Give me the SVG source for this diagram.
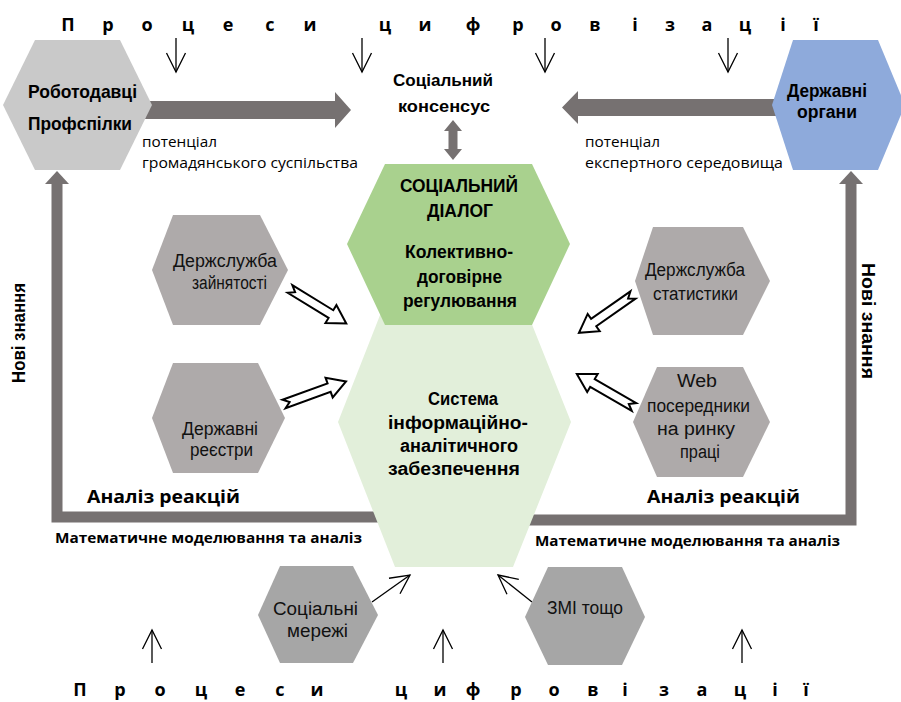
<svg xmlns="http://www.w3.org/2000/svg" width="901" height="702" viewBox="0 0 901 702">
<style>
.ttl{font-family:"Open Sans","Liberation Sans",sans-serif;font-weight:700;font-size:18px;fill:#000;text-anchor:middle}
.nb{font-family:"Liberation Sans",Arial,sans-serif;font-weight:700;fill:#000}
.nr{font-family:"Liberation Sans",Arial,sans-serif;font-weight:400;fill:#111}
.cal{font-family:"Open Sans","Liberation Sans",sans-serif;fill:#000}
.thin{fill:none;stroke:#000;stroke-width:1.3}
.thick{fill:#767171}
.frame{fill:none;stroke:#767171;stroke-width:11;stroke-linejoin:miter}
.hol{fill:#fff;stroke:#000;stroke-width:2;stroke-linejoin:miter}
.g1{fill:#AEAAAA}
.g2{fill:#A6A6A6}
</style>
<defs>
<marker id="v" viewBox="-22 -11 24 22" refX="0" refY="0" markerWidth="24" markerHeight="22" markerUnits="userSpaceOnUse" orient="auto">
<path d="M-19,-9.5 L0,0 L-19,9.5" fill="none" stroke="#000" stroke-width="1.3"/>
</marker>
<path id="ha" d="M0,-4.5 L48,-4.5 L48,-10.5 L66,0 L48,10.5 L48,4.5 L0,4.5 L6,0 Z"/>
</defs>
<rect width="901" height="702" fill="#fff"/>

<g id="title-top">
<text class="ttl" y="31"><tspan x="68">П</tspan><tspan x="108">р</tspan><tspan x="147">о</tspan><tspan x="188">ц</tspan><tspan x="228">е</tspan><tspan x="270">с</tspan><tspan x="310">и</tspan><tspan x="385">ц</tspan><tspan x="425">и</tspan><tspan x="473">ф</tspan><tspan x="518">р</tspan><tspan x="556">о</tspan><tspan x="595">в</tspan><tspan x="635">і</tspan><tspan x="670">з</tspan><tspan x="707">а</tspan><tspan x="745">ц</tspan><tspan x="783">і</tspan><tspan x="816">ї</tspan></text>
</g>
<g id="title-bottom">
<text class="ttl" y="696"><tspan x="80">П</tspan><tspan x="120">р</tspan><tspan x="160">о</tspan><tspan x="201">ц</tspan><tspan x="240">е</tspan><tspan x="280">с</tspan><tspan x="317">и</tspan><tspan x="401">ц</tspan><tspan x="440">и</tspan><tspan x="473">ф</tspan><tspan x="516">р</tspan><tspan x="554">о</tspan><tspan x="593">в</tspan><tspan x="625">і</tspan><tspan x="664">з</tspan><tspan x="702">а</tspan><tspan x="740">ц</tspan><tspan x="775">і</tspan><tspan x="806">ї</tspan></text>
</g>

<g id="connectors">
<line class="thin" x1="176" y1="38" x2="176" y2="72" marker-end="url(#v)"/>
<line class="thin" x1="362" y1="38" x2="362" y2="72" marker-end="url(#v)"/>
<line class="thin" x1="545" y1="38" x2="545" y2="72" marker-end="url(#v)"/>
<line class="thin" x1="728" y1="38" x2="728" y2="72" marker-end="url(#v)"/>
<line class="thin" x1="152" y1="663" x2="152" y2="630" marker-end="url(#v)"/>
<line class="thin" x1="443" y1="663" x2="443" y2="630" marker-end="url(#v)"/>
<line class="thin" x1="742" y1="663" x2="742" y2="630" marker-end="url(#v)"/>
<line class="thin" x1="372" y1="602" x2="410" y2="575" marker-end="url(#v)"/>
<line class="thin" x1="532" y1="602" x2="498" y2="575" marker-end="url(#v)"/>
<polygon class="thick" points="145,101 335,101 335,92 351,110 335,128 335,119 145,119"/>
<polygon class="thick" points="780,99 578,99 578,91 562,107.5 578,124 578,116 780,116"/>
<polygon class="thick" points="453,120 462,131 457.5,131 457.5,149 462,149 453,160 444,149 448.5,149 448.5,131 444,131"/>
<path class="frame" d="M395,517 H57 V183"/>
<polygon class="thick" points="45,184 57,171 69,184"/>
<path class="frame" d="M520,520 H851 V183"/>
<polygon class="thick" points="839,184 851,171 863,184"/>
<use href="#ha" class="hol" transform="translate(290,289) rotate(31.5)"/>
<use href="#ha" class="hol" transform="translate(284,404) rotate(-20)"/>
<use href="#ha" class="hol" transform="translate(633,295) rotate(145)"/>
<use href="#ha" class="hol" transform="translate(634,407) rotate(210)"/>
</g>

<g id="employers">
<polygon fill="#C9C9C9" points="35,40 120,40 152,105 120,170 35,170 3,105"/>
<text class="nb" x="28" y="98" font-size="19" textLength="109" lengthAdjust="spacingAndGlyphs">Роботодавці</text>
<text class="nb" x="28" y="130" font-size="19" textLength="104" lengthAdjust="spacingAndGlyphs">Профспілки</text>
</g>
<g id="gov">
<polygon fill="#8EAADB" points="793,40 878,40 905,105 878,170 793,170 772,105"/>
<text class="nb" x="787" y="97" font-size="18" textLength="80" lengthAdjust="spacingAndGlyphs">Державні</text>
<text class="nb" x="797" y="118" font-size="18" textLength="60" lengthAdjust="spacingAndGlyphs">органи</text>
</g>
<g id="consensus">
<text class="nb" x="393" y="86" font-size="17" textLength="100" lengthAdjust="spacingAndGlyphs">Соціальний</text>
<text class="nb" x="398" y="112" font-size="17" textLength="92" lengthAdjust="spacingAndGlyphs">консенсус</text>
</g>
<g id="labels">
<text class="cal" x="142" y="147" font-size="15" textLength="75" lengthAdjust="spacingAndGlyphs">потенціал</text>
<text class="cal" x="142" y="168" font-size="15" textLength="216" lengthAdjust="spacingAndGlyphs">громадянського суспільства</text>
<text class="cal" x="585" y="147" font-size="15" textLength="75" lengthAdjust="spacingAndGlyphs">потенціал</text>
<text class="cal" x="585" y="168" font-size="15" textLength="198" lengthAdjust="spacingAndGlyphs">експертного середовища</text>
<text class="cal" x="87" y="503" font-size="18" font-weight="700" textLength="153" lengthAdjust="spacingAndGlyphs">Аналіз реакцій</text>
<text class="cal" x="647" y="503" font-size="18" font-weight="700" textLength="153" lengthAdjust="spacingAndGlyphs">Аналіз реакцій</text>
<text class="cal" x="55" y="543" font-size="13.5" font-weight="700" textLength="307" lengthAdjust="spacingAndGlyphs">Математичне моделювання та аналіз</text>
<text class="cal" x="535" y="546" font-size="13.5" font-weight="700" textLength="305" lengthAdjust="spacingAndGlyphs">Математичне моделювання та аналіз</text>
<text class="nb" transform="translate(25,333) rotate(-90)" text-anchor="middle" font-size="19" textLength="100" lengthAdjust="spacingAndGlyphs">Нові знання</text>
<text class="nb" transform="translate(862,321) rotate(90)" text-anchor="middle" font-size="19" textLength="116" lengthAdjust="spacingAndGlyphs">Нові знання</text>
</g>

<g id="info-system">
<polygon fill="#E2EFDA" points="395,277 513,277 571,422 513,567 395,567 338,422"/>
<text class="nb" x="428" y="405" font-size="18" textLength="70" lengthAdjust="spacingAndGlyphs">Система</text>
<text class="nb" x="388" y="429" font-size="18" textLength="140" lengthAdjust="spacingAndGlyphs">інформаційно-</text>
<text class="nb" x="400" y="452" font-size="18" textLength="118" lengthAdjust="spacingAndGlyphs">аналітичного</text>
<text class="nb" x="388" y="475" font-size="18" textLength="132" lengthAdjust="spacingAndGlyphs">забезпечення</text>
</g>
<g id="social-dialog">
<polygon fill="#A9D18E" points="385,164 532,164 570,244 532,325 385,325 347,244"/>
<text class="nb" x="400" y="192" font-size="19" textLength="118" lengthAdjust="spacingAndGlyphs">СОЦІАЛЬНИЙ</text>
<text class="nb" x="427" y="217" font-size="19" textLength="66" lengthAdjust="spacingAndGlyphs">ДІАЛОГ</text>
<text class="nb" x="405" y="258" font-size="18" textLength="108" lengthAdjust="spacingAndGlyphs">Колективно-</text>
<text class="nb" x="417" y="283" font-size="18" textLength="85" lengthAdjust="spacingAndGlyphs">договірне</text>
<text class="nb" x="403" y="307" font-size="18" textLength="114" lengthAdjust="spacingAndGlyphs">регулювання</text>
</g>

<g id="employment-service">
<polygon class="g1" points="173,215 260,215 288,270 260,325 173,325 152,270"/>
<text class="nr" x="173" y="267" font-size="18" textLength="104" lengthAdjust="spacingAndGlyphs">Держслужба</text>
<text class="nr" x="192" y="289" font-size="18" textLength="75" lengthAdjust="spacingAndGlyphs">зайнятості</text>
</g>
<g id="state-registers">
<polygon class="g1" points="173,363 258,363 285,418 258,473 173,473 152,418"/>
<text class="nr" x="182" y="435" font-size="18" textLength="76" lengthAdjust="spacingAndGlyphs">Державні</text>
<text class="nr" x="190" y="456" font-size="18" textLength="63" lengthAdjust="spacingAndGlyphs">реєстри</text>
</g>
<g id="statistics-service">
<polygon class="g1" points="653,227 743,227 770,281 743,335 653,335 635,281"/>
<text class="nr" x="645" y="276" font-size="18" textLength="100" lengthAdjust="spacingAndGlyphs">Держслужба</text>
<text class="nr" x="653" y="300" font-size="18" textLength="85" lengthAdjust="spacingAndGlyphs">статистики</text>
</g>
<g id="web-intermediaries">
<polygon class="g1" points="657,367 743,367 770,422 743,477 657,477 633,422"/>
<text class="nr" x="677" y="387" font-size="18" textLength="40" lengthAdjust="spacingAndGlyphs">Web</text>
<text class="nr" x="647" y="412" font-size="18" textLength="103" lengthAdjust="spacingAndGlyphs">посередники</text>
<text class="nr" x="657" y="435" font-size="18" textLength="78" lengthAdjust="spacingAndGlyphs">на ринку</text>
<text class="nr" x="680" y="458" font-size="18" textLength="40" lengthAdjust="spacingAndGlyphs">праці</text>
</g>
<g id="social-networks">
<polygon class="g2" points="280,566 353,566 378,615 353,663 280,663 258,615"/>
<text class="nr" x="273" y="615" font-size="18" textLength="85" lengthAdjust="spacingAndGlyphs">Соціальні</text>
<text class="nr" x="287" y="637" font-size="18" textLength="61" lengthAdjust="spacingAndGlyphs">мережі</text>
</g>
<g id="media">
<polygon class="g2" points="548,567 622,567 645,617 622,665 548,665 525,617"/>
<text class="nr" x="547" y="614" font-size="18" textLength="76" lengthAdjust="spacingAndGlyphs">ЗМІ тощо</text>
</g>
</svg>
